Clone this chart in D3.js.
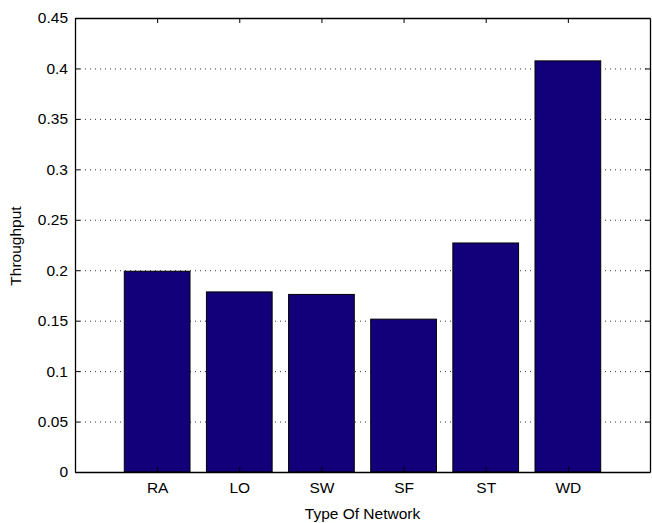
<!DOCTYPE html>
<html><head><meta charset="utf-8">
<script src="https://cdn.jsdelivr.net/npm/d3@7"></script>
<style>body{margin:0;background:#fff}svg{display:block}text{font-family:"Liberation Sans",Arial,Helvetica,sans-serif;fill:#000}</style>
</head><body>
<svg id="c" width="652" height="523"></svg>
<script>
const categories = ["RA","LO","SW","SF","ST","WD"];
const throughput = [0.199, 0.1785, 0.176, 0.1515, 0.227, 0.4075];
const yTicks = [0,0.05,0.1,0.15,0.2,0.25,0.3,0.35,0.4,0.45];
const yTickLabels = ["0","0.05","0.1","0.15","0.2","0.25","0.3","0.35","0.4","0.45"];

const W=652,H=523, m={l:75,r:2,t:18,b:51};
const svg=d3.select("#c");
const x=d3.scaleLinear().domain([0,7]).range([m.l,W-m.r]);
const y=d3.scaleLinear().domain([0,0.45]).range([H-m.b,m.t]);
const fs=15.5;

// gridlines
svg.append("g").selectAll("line").data(yTicks.slice(1,-1)).join("line")
  .attr("x1",m.l).attr("x2",W-m.r).attr("y1",d=>y(d)+0.5).attr("y2",d=>y(d)+0.5)
  .attr("stroke","#333").attr("stroke-width",1).attr("stroke-dasharray","1,4");

// bars
const bw=0.8;
svg.append("g").selectAll("rect").data(throughput).join("rect")
  .attr("x",(d,i)=>x(i+1-bw/2)).attr("width",x(bw)-x(0))
  .attr("y",d=>y(d)).attr("height",d=>y(0)-y(d))
  .attr("fill","#12007a").attr("stroke","#000").attr("stroke-width",1);

// axes
const yAxis=d3.axisLeft(y).tickValues(yTicks).tickFormat((d,i)=>yTickLabels[i]).tickSizeInner(-5).tickSizeOuter(0).tickPadding(7);
const gy=svg.append("g").attr("transform",`translate(${m.l},0)`).call(yAxis);
const yR=d3.axisRight(y).tickValues(yTicks).tickFormat("").tickSizeInner(-5).tickSizeOuter(0);
const gyr=svg.append("g").attr("transform",`translate(${W-m.r},0)`).call(yR);
const xAxis=d3.axisBottom(x).tickValues(d3.range(1,7)).tickFormat(d=>categories[d-1]).tickSizeInner(-5).tickSizeOuter(0).tickPadding(10);
const gx=svg.append("g").attr("transform",`translate(0,${H-m.b})`).call(xAxis);
const xT=d3.axisTop(x).tickValues(d3.range(1,7)).tickFormat("").tickSizeInner(-5).tickSizeOuter(0);
const gxt=svg.append("g").attr("transform",`translate(0,${m.t})`).call(xT);
[gy,gyr,gx,gxt].forEach(g=>{g.selectAll("path").attr("stroke","#000").attr("stroke-width",1.3);g.selectAll("line").attr("stroke","#000");g.selectAll("text").style("font-size",fs+"px").style("font-family",'"Liberation Sans",Arial,sans-serif');});

// labels
svg.append("text").attr("x",(m.l+W-m.r)/2).attr("y",H-4).attr("text-anchor","middle").style("font-size",fs+"px").text("Type Of Network");
svg.append("text").attr("transform",`translate(21,${(m.t+H-m.b)/2+1}) rotate(-90)`).attr("text-anchor","middle").style("font-size",fs+"px").text("Throughput");
</script>
</body></html>
